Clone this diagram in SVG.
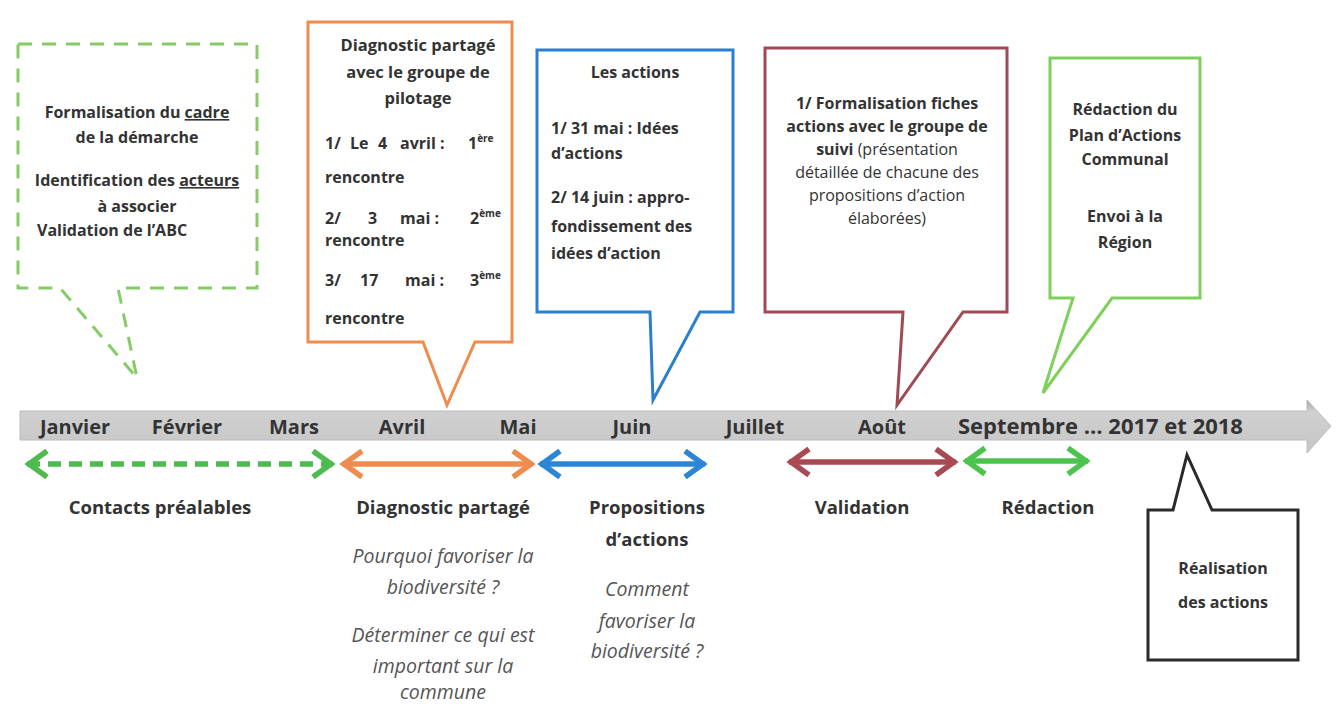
<svg xmlns="http://www.w3.org/2000/svg" width="1336" height="706" viewBox="0 0 1336 706">
<style>
  text { font-family: "Open Sans", "Liberation Sans", sans-serif; fill: #333; }
  .b { font-weight: bold; font-size: 16px; }
  .n { font-weight: normal; }
  .sup { font-size: 10px; }
  .m { font-weight: bold; font-size: 20px; fill: #333; }
  .lab { font-weight: bold; font-size: 18.5px; }
  .it { font-style: italic; font-size: 19.5px; fill: #555; }
  .c { text-anchor: middle; }
  .call { fill: #fff; stroke-width: 3; stroke-linejoin: miter; }
  .arr { fill: none; stroke-width: 5.5; }
  .hd { fill: none; stroke-width: 5.5; stroke-linecap: butt; stroke-linejoin: miter; }
</style>
<defs>
  <linearGradient id="barg" x1="0" y1="0" x2="0" y2="1">
    <stop offset="0" stop-color="#a6a6a6"/>
    <stop offset="0.22" stop-color="#d0d0d0"/>
    <stop offset="1" stop-color="#c6c6c6"/>
  </linearGradient>
  <marker id="mg" viewBox="-24 -16 28 32" refX="0" refY="0" markerWidth="28" markerHeight="32" markerUnits="userSpaceOnUse" orient="auto-start-reverse"><path class="hd" d="M-20,-13 L-2,0 L-20,13" stroke="#4dbb4d"/></marker>
  <marker id="mo" viewBox="-24 -16 28 32" refX="0" refY="0" markerWidth="28" markerHeight="32" markerUnits="userSpaceOnUse" orient="auto-start-reverse"><path class="hd" d="M-20,-13 L-2,0 L-20,13" stroke="#f08b4e"/></marker>
  <marker id="mb" viewBox="-24 -16 28 32" refX="0" refY="0" markerWidth="28" markerHeight="32" markerUnits="userSpaceOnUse" orient="auto-start-reverse"><path class="hd" d="M-20,-13 L-2,0 L-20,13" stroke="#2b86d6"/></marker>
  <marker id="mr" viewBox="-24 -16 28 32" refX="0" refY="0" markerWidth="28" markerHeight="32" markerUnits="userSpaceOnUse" orient="auto-start-reverse"><path class="hd" d="M-20,-13 L-2,0 L-20,13" stroke="#a84a52"/></marker>
  <marker id="mg2" viewBox="-24 -16 28 32" refX="0" refY="0" markerWidth="28" markerHeight="32" markerUnits="userSpaceOnUse" orient="auto-start-reverse"><path class="hd" d="M-20,-13 L-2,0 L-20,13" stroke="#4cc34c"/></marker>
</defs>
<rect width="1336" height="706" fill="#fff"/>

<g id="timeline">
  <path d="M20,411 H1307 V400 L1331,426 L1307,453 V440 H20 Z" fill="url(#barg)" stroke="#bcbcbc" stroke-width="1"/>
  <text class="m c" x="75" y="434">Janvier</text>
  <text class="m c" x="187" y="434">Février</text>
  <text class="m c" x="294" y="434">Mars</text>
  <text class="m c" x="402" y="434">Avril</text>
  <text class="m c" x="518" y="434">Mai</text>
  <text class="m c" x="632" y="434">Juin</text>
  <text class="m c" x="755" y="434">Juillet</text>
  <text class="m c" x="882" y="434">Août</text>
  <text class="m" x="958" y="434" style="font-size:22px">Septembre … 2017 et 2018</text>
</g>

<g id="connectors">
  <line class="arr" x1="27" y1="464" x2="333" y2="464" stroke="#4dbb4d" stroke-dasharray="13 8" marker-start="url(#mg)" marker-end="url(#mg)"/>
  <line class="arr" x1="342" y1="464" x2="533" y2="464" stroke="#f08b4e" marker-start="url(#mo)" marker-end="url(#mo)"/>
  <line class="arr" x1="540" y1="464" x2="705" y2="464" stroke="#2b86d6" marker-start="url(#mb)" marker-end="url(#mb)"/>
  <line class="arr" x1="789" y1="462" x2="956" y2="462" stroke="#a84a52" marker-start="url(#mr)" marker-end="url(#mr)"/>
  <line class="arr" x1="965" y1="461" x2="1088" y2="461" stroke="#4cc34c" marker-start="url(#mg2)" marker-end="url(#mg2)"/>
</g>

<g id="node-cadre">
  <path class="call" d="M18,44 H257 V288 H118 L137,378 L60,288 H18 Z" stroke="#86cc66" stroke-dasharray="14 10"/>
  <text class="b c" x="137" y="118">Formalisation du <tspan text-decoration="underline">cadre</tspan></text>
  <text class="b c" x="137" y="143">de la démarche</text>
  <text class="b c" x="137" y="186">Identification des <tspan text-decoration="underline">acteurs</tspan></text>
  <text class="b c" x="137" y="212">à associer</text>
  <text class="b" x="37" y="236">Validation de l’ABC</text>
</g>

<g id="node-diagnostic">
  <path class="call" d="M308,22 H512 V342 H475 L447,405 L423,342 H308 Z" stroke="#f08b4e"/>
  <text class="b c" x="418" y="51" style="font-size:16.5px">Diagnostic partagé</text>
  <text class="b c" x="418" y="78" style="font-size:16.5px">avec le groupe de</text>
  <text class="b c" x="418" y="104" style="font-size:16.5px">pilotage</text>
  <text class="b" y="149"><tspan x="325">1/</tspan><tspan x="350">Le</tspan><tspan x="378">4</tspan><tspan x="400">avril :</tspan><tspan x="468">1</tspan><tspan class="sup" dy="-7">ère</tspan></text>
  <text class="b" x="325" y="183">rencontre</text>
  <text class="b" y="224"><tspan x="325">2/</tspan><tspan x="368">3</tspan><tspan x="400">mai :</tspan><tspan x="470">2</tspan><tspan class="sup" dy="-7">ème</tspan></text>
  <text class="b" x="325" y="246">rencontre</text>
  <text class="b" y="286"><tspan x="325">3/</tspan><tspan x="360">17</tspan><tspan x="405">mai :</tspan><tspan x="470">3</tspan><tspan class="sup" dy="-7">ème</tspan></text>
  <text class="b" x="325" y="324">rencontre</text>
</g>

<g id="node-actions">
  <path class="call" d="M537,50 H733 V312 H700 L653,400 L650,312 H537 Z" stroke="#2b7fcf"/>
  <text class="b c" x="635" y="78">Les actions</text>
  <text class="b" x="551" y="134">1/ 31 mai : Idées</text>
  <text class="b" x="551" y="159">d’actions</text>
  <text class="b" x="551" y="203">2/ 14 juin : appro-</text>
  <text class="b" x="551" y="232">fondissement des</text>
  <text class="b" x="551" y="259">idées d’action</text>
</g>

<g id="node-fiches">
  <path class="call" d="M765,48 H1007 V312 H963 L897,405 L903,312 H765 Z" stroke="#a04a55"/>
  <text class="b c" x="887" y="109">1/ Formalisation fiches</text>
  <text class="b c" x="887" y="132">actions avec  le groupe de</text>
  <text class="b c" x="887" y="155">suivi <tspan class="n">(présentation</tspan></text>
  <text class="b n c" x="887" y="178">détaillée  de chacune des</text>
  <text class="b n c" x="887" y="201">propositions d’action</text>
  <text class="b n c" x="887" y="224">élaborées)</text>
</g>

<g id="node-redaction">
  <path class="call" d="M1050,58 H1200 V298 H1112 L1043,393 L1073,298 H1050 Z" stroke="#7fd05a"/>
  <text class="b c" x="1125" y="115">Rédaction du</text>
  <text class="b c" x="1125" y="141">Plan d’Actions</text>
  <text class="b c" x="1125" y="165">Communal</text>
  <text class="b c" x="1125" y="222">Envoi à la</text>
  <text class="b c" x="1125" y="248">Région</text>
</g>

<g id="node-realisation">
  <path class="call" d="M1148,510 H1173 L1187,455 L1212,510 H1298 V660 H1148 Z" stroke="#2a2a2a"/>
  <text class="b c" x="1223" y="574">Réalisation</text>
  <text class="b c" x="1223" y="608">des actions</text>
</g>

<g id="labels">
  <text class="lab c" x="160" y="514">Contacts préalables</text>
  <text class="lab c" x="443" y="514">Diagnostic partagé</text>
  <text class="it c" x="443" y="563">Pourquoi favoriser la</text>
  <text class="it c" x="443" y="594">biodiversité ?</text>
  <text class="it c" x="443" y="642">Déterminer ce qui est</text>
  <text class="it c" x="443" y="673">important  sur la</text>
  <text class="it c" x="443" y="699">commune</text>
  <text class="lab c" x="647" y="514">Propositions</text>
  <text class="lab c" x="647" y="546">d’actions</text>
  <text class="it c" x="647" y="596">Comment</text>
  <text class="it c" x="647" y="628">favoriser la</text>
  <text class="it c" x="647" y="658">biodiversité ?</text>
  <text class="lab c" x="862" y="514">Validation</text>
  <text class="lab c" x="1048" y="514">Rédaction</text>
</g>
</svg>
